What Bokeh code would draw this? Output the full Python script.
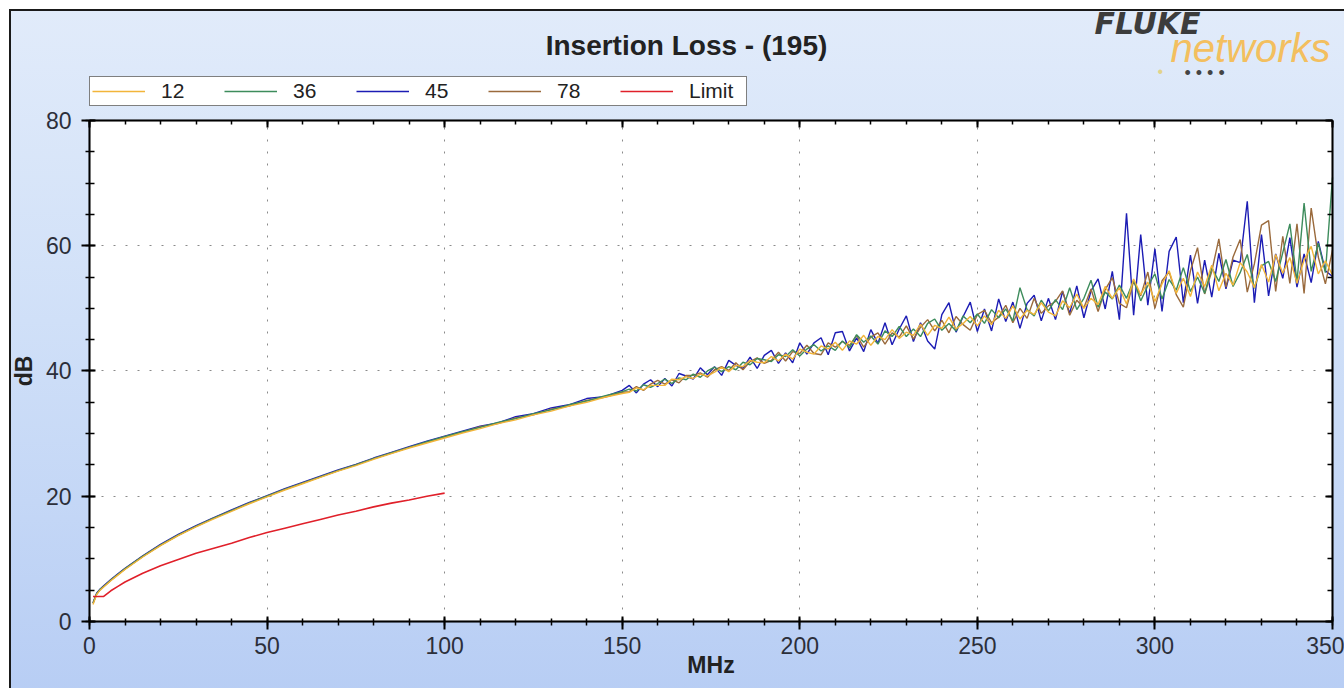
from bokeh.plotting import figure
from bokeh.models import (Range1d, SingleIntervalTicker, LinearAxis, Legend, LegendItem,
                          Label, InlineStyleSheet, CustomJSTickFormatter, BoxAnnotation)
from bokeh.embed import file_html
from bokeh.resources import INLINE

FONT = "Liberation Sans"

# ---------------- data ----------------
freq_low = [1, 2, 3, 4, 6, 8, 10, 15, 20, 25, 30, 35, 40, 45, 50, 55, 60, 65, 70, 75,
            80, 85, 90, 95, 100, 105, 110, 115, 120, 125, 130, 135, 140, 145, 150]
freq_high = [152, 154, 156, 158, 160, 162, 164, 166, 168, 170,
             172, 174, 176, 178, 180, 182, 184, 186, 188, 190,
             192, 194, 196, 198, 200, 202, 204, 206, 208, 210,
             212, 214, 216, 218, 220, 222, 224, 226, 228, 230,
             232, 234, 236, 238, 240, 242, 244, 246, 248, 250,
             252, 254, 256, 258, 260, 262, 264, 266, 268, 270,
             272, 274, 276, 278, 280, 282, 284, 286, 288, 290,
             292, 294, 296, 298, 300, 302, 304, 306, 308, 310,
             312, 314, 316, 318, 320, 322, 324, 326, 328, 330,
             332, 334, 336, 338, 340, 342, 344, 346, 348, 350]
freq_mhz = freq_low + freq_high

il_12_low = [2.7, 4.3, 5.0, 5.5, 6.5, 7.4, 8.3, 10.3, 12.1, 13.7, 15.1, 16.4, 17.6, 18.8, 19.9, 21.0, 22.0,
             23.0, 24.0, 24.9, 25.9, 26.8, 27.7, 28.5, 29.3, 30.1, 30.8,
             31.6, 32.2, 33.0, 33.6, 34.4, 35.0, 35.8, 36.4]
il_12_high = [36.6, 37.3, 37.0, 37.7, 37.7, 37.7, 38.7, 38.6, 39.1, 38.8,
              39.5, 39.2, 39.8, 40.6, 39.9, 40.9, 40.7, 41.7, 41.4, 41.3,
              42.3, 41.6, 42.7, 41.9, 43.5, 43.0, 42.7, 44.0, 43.5, 44.6,
              43.3, 44.8, 44.3, 45.7, 44.1, 45.5, 45.0, 46.6, 45.2, 46.2,
              45.7, 47.5, 45.7, 47.3, 46.8, 48.6, 46.7, 47.6, 48.7, 47.2,
              48.8, 47.4, 49.7, 48.4, 50.4, 48.3, 49.7, 49.0, 50.9, 49.4,
              48.8, 51.2, 50.1, 52.3, 50.0, 51.6, 50.6, 53.5, 51.6, 53.3,
              50.7, 54.7, 52.2, 54.2, 51.1, 53.9, 56.0, 52.4, 54.8, 51.9,
              55.8, 53.5, 56.9, 52.8, 55.6, 53.7, 57.3, 55.8, 53.3, 57.0,
              54.2, 58.6, 55.6, 58.1, 54.0, 57.7, 59.9, 55.5, 57.6, 55.3]

il_36_low = [2.9, 4.4, 5.1, 5.6, 6.6, 7.5, 8.4, 10.4, 12.2, 13.8, 15.2, 16.5, 17.7, 18.9, 20.0, 21.1, 22.1,
             23.1, 24.1, 25.0, 26.0, 26.9, 27.8, 28.7, 29.5, 30.3, 31.0,
             31.8, 32.4, 33.2, 33.8, 34.6, 35.2, 36.0, 36.7]
il_36_high = [37.1, 36.8, 37.8, 37.4, 38.0, 38.7, 38.0, 38.9, 38.6, 39.5,
              39.0, 40.0, 40.6, 39.9, 40.7, 40.2, 41.4, 41.0, 42.0, 41.8,
              41.5, 42.6, 42.3, 43.4, 42.4, 43.5, 44.2, 43.2, 44.0, 43.3,
              44.8, 43.7, 45.8, 44.6, 45.6, 44.3, 46.4, 45.5, 47.1, 45.5,
              46.7, 45.5, 47.6, 48.3, 46.5, 47.6, 46.4, 48.8, 47.7, 49.1,
              47.6, 49.8, 48.5, 49.9, 48.0, 53.3, 49.8, 48.8, 51.3, 49.6,
              51.4, 49.8, 53.3, 49.8, 51.6, 54.5, 50.2, 52.6, 51.5, 53.7,
              51.6, 54.5, 51.2, 53.6, 55.5, 51.5, 54.6, 52.9, 56.5, 52.7,
              55.0, 52.4, 56.5, 54.3, 57.8, 53.5, 55.7, 58.6, 53.2, 56.8,
              57.5, 54.3, 58.9, 63.5, 54.3, 66.8, 55.9, 60.4, 55.7, 70.9]

il_45_low = [3.0, 4.5, 5.2, 5.7, 6.7, 7.6, 8.5, 10.5, 12.3, 13.9, 15.3, 16.6, 17.8, 19.0, 20.1, 21.2, 22.2,
             23.2, 24.2, 25.1, 26.1, 27.0, 27.9, 28.8, 29.6, 30.4, 31.2,
             31.7, 32.7, 33.2, 34.1, 34.6, 35.6, 35.9, 36.9]
il_45_high = [37.7, 36.5, 37.9, 38.6, 37.5, 38.8, 37.6, 39.6, 39.2, 38.7,
              40.5, 39.4, 40.7, 39.3, 41.7, 40.9, 40.4, 42.2, 40.4, 42.5,
              43.3, 41.2, 42.9, 41.3, 44.5, 42.7, 44.5, 45.3, 42.6, 46.1,
              46.3, 43.2, 45.3, 43.1, 46.6, 44.4, 47.7, 44.2, 46.7, 48.8,
              44.7, 47.7, 44.8, 43.5, 49.0, 50.9, 46.2, 48.7, 51.0, 46.3,
              49.9, 46.4, 51.5, 47.9, 51.0, 46.8, 50.8, 52.1, 48.0, 51.6,
              48.2, 52.7, 49.2, 53.6, 48.5, 52.8, 54.7, 49.9, 55.9, 48.2,
              65.2, 48.9, 61.8, 50.5, 59.5, 49.5, 59.1, 61.4, 50.9, 58.5,
              50.8, 57.7, 51.8, 58.8, 53.1, 57.7, 57.3, 67.1, 50.9, 61.8,
              52.0, 58.7, 54.8, 61.3, 53.4, 58.7, 54.1, 60.7, 56.0, 55.1]

il_78_low = [2.9, 4.4, 5.1, 5.6, 6.6, 7.5, 8.4, 10.4, 12.2, 13.8, 15.2, 16.5, 17.7, 18.9, 20.0, 21.1, 22.1,
             23.1, 24.1, 25.0, 26.0, 26.9, 27.8, 28.6, 29.5, 30.2, 31.1,
             31.6, 32.5, 33.0, 33.9, 34.4, 35.3, 35.8, 36.6]
il_78_high = [36.7, 37.5, 36.9, 37.9, 38.5, 37.9, 38.6, 38.1, 39.3, 39.3,
              39.7, 39.0, 40.2, 40.7, 40.1, 41.3, 40.2, 41.5, 42.1, 41.2,
              41.7, 43.0, 41.6, 43.1, 42.8, 44.1, 42.8, 42.6, 44.5, 43.8,
              44.7, 44.1, 45.7, 43.8, 45.4, 46.1, 44.3, 46.1, 45.4, 47.2,
              45.1, 47.0, 48.2, 46.4, 48.1, 46.1, 48.7, 47.4, 46.5, 49.0,
              49.7, 47.7, 48.6, 50.5, 47.7, 50.0, 48.4, 51.6, 49.2, 50.4,
              51.1, 52.8, 48.9, 51.3, 50.1, 53.1, 49.5, 53.0, 54.9, 50.8,
              50.1, 54.3, 52.0, 55.8, 50.0, 54.4, 55.8, 52.2, 50.2, 56.0,
              59.7, 52.3, 55.9, 61.1, 53.4, 58.2, 61.0, 52.6, 57.1, 63.3,
              64.0, 52.7, 61.5, 54.0, 63.5, 52.4, 66.0, 58.2, 53.9, 59.3]

il_12 = il_12_low + il_12_high
il_36 = il_36_low + il_36_high
il_45 = il_45_low + il_45_high
il_78 = il_78_low + il_78_high

limit_freq = [1, 2, 3, 4, 6, 8, 10, 15, 20, 25, 30, 35, 40, 45, 50, 55, 60, 65, 70, 75,
              80, 85, 90, 95, 100]
limit_db = [4.0, 4.0, 4.0, 4.0, 4.9, 5.6, 6.3, 7.7, 8.9, 9.9, 10.9, 11.7, 12.5, 13.4, 14.2,
            14.9, 15.6, 16.3, 17.0, 17.6, 18.3, 18.9, 19.4, 20.0, 20.5]

pair_labels = ["12", "36", "45", "78", "Limit"]
pair_colors = ["#f2b53a", "#3d8c5c", "#1c1cb4", "#9a6a3c", "#e0202a"]

X_MIN, X_MAX = 0, 350
Y_MIN, Y_MAX = 0, 80

# ---------------- figure ----------------
# The frame fills the whole canvas; the plot box (0..350 MHz, 0..80 dB) sits inside it.
p = figure(width=1344, height=688,
           x_range=Range1d(-25.06, 353.38), y_range=Range1d(-10.70, 99.16),
           output_backend="svg", toolbar_location=None,
           min_border_left=0, min_border_right=0, min_border_top=0, min_border_bottom=0,
           background_fill_color=None, border_fill_color=None, outline_line_color=None)
p.title.visible = False

css = """
:host {
  background:
    linear-gradient(#1a1a1a, #1a1a1a) 9px 9px / 2px 100% no-repeat,
    linear-gradient(#1a1a1a, #1a1a1a) 9px 9px / 100% 2px no-repeat,
    linear-gradient(180deg, #e1ebfa 0%, #d0e0f8 45%, #b7cdf4 100%) 11px 11px / 100% 100% no-repeat,
    #ffffff;
}
"""
p.stylesheets = [InlineStyleSheet(css=css)]

# white plot box with black outline
p.add_layout(BoxAnnotation(left=X_MIN, right=X_MAX, bottom=Y_MIN, top=Y_MAX,
                           fill_color="white", fill_alpha=1.0,
                           line_color="black", line_width=1.5, level="image"))

xt = SingleIntervalTicker(interval=50, num_minor_ticks=5)
yt = SingleIntervalTicker(interval=20, num_minor_ticks=4)

xa = p.xaxis[0]
ya = p.yaxis[0]
xa.fixed_location = Y_MIN
ya.fixed_location = X_MIN
xa.bounds = (X_MIN, X_MAX)
ya.bounds = (Y_MIN, Y_MAX)

for ax, tk in ((xa, xt), (ya, yt)):
    ax.ticker = tk
    ax.axis_line_width = 2
    ax.major_tick_line_width = 2
    ax.minor_tick_line_width = 1.5
    ax.major_label_text_font = FONT
    ax.major_label_text_font_size = "23px"
    ax.major_label_text_color = "#2c2f3a"
    ax.axis_label_text_font = FONT
    ax.axis_label_text_font_style = "bold"
    ax.axis_label_text_font_size = "23px"
    ax.axis_label_text_color = "#222222"

xa.axis_label = "MHz"
xa.major_tick_in = 5
xa.major_tick_out = 8
xa.minor_tick_in = 3
xa.minor_tick_out = 4
xa.major_label_standoff = 8
xa.axis_label_standoff = -6

ya.axis_label = "dB"
ya.major_tick_in = 6
ya.major_tick_out = 8
ya.minor_tick_in = 5
ya.minor_tick_out = 4
ya.major_label_standoff = 10
ya.axis_label_standoff = 6

for g, tk, b, cb in ((p.xgrid[0], xt, (X_MIN, X_MAX), (Y_MIN, Y_MAX)),
                     (p.ygrid[0], yt, (Y_MIN, Y_MAX), (X_MIN, X_MAX))):
    g.ticker = tk
    g.bounds = b
    g.cross_bounds = cb
    g.grid_line_color = "#8a8a8a"
    g.grid_line_dash = "2 10"
    g.grid_line_width = 1

# inward ticks on the top and right edges of the plot box
blank = CustomJSTickFormatter(code="return ''")
top_ax = LinearAxis(ticker=SingleIntervalTicker(interval=50, num_minor_ticks=5), formatter=blank,
                    fixed_location=Y_MAX, bounds=(X_MIN, X_MAX),
                    major_tick_in=7, major_tick_out=0, minor_tick_in=4, minor_tick_out=0,
                    major_tick_line_width=2, minor_tick_line_width=1.5, axis_line_width=2,
                    major_label_standoff=0)
right_ax = LinearAxis(ticker=SingleIntervalTicker(interval=20, num_minor_ticks=4), formatter=blank,
                      fixed_location=X_MAX, bounds=(Y_MIN, Y_MAX),
                      major_tick_in=7, major_tick_out=0, minor_tick_in=5, minor_tick_out=0,
                      major_tick_line_width=2, minor_tick_line_width=1.5, axis_line_width=2,
                      major_label_standoff=0)
p.add_layout(top_ax, "above")
p.add_layout(right_ax, "right")

# ---------------- lines ----------------
r45 = p.line(freq_mhz, il_45, line_color=pair_colors[2], line_width=1.4)
r78 = p.line(freq_mhz, il_78, line_color=pair_colors[3], line_width=1.4)
r36 = p.line(freq_mhz, il_36, line_color=pair_colors[1], line_width=1.4)
r12 = p.line(freq_mhz, il_12, line_color=pair_colors[0], line_width=1.4)
rlim = p.line(limit_freq, limit_db, line_color=pair_colors[4], line_width=1.6)

renderers = [r12, r36, r45, r78, rlim]
legend = Legend(items=[LegendItem(label=l, renderers=[r]) for l, r in zip(pair_labels, renderers)],
                orientation="horizontal", location=(89, 582),
                glyph_width=53, glyph_height=20, label_standoff=16, label_width=55, label_height=20,
                spacing=8, padding=2, margin=0,
                border_line_color="black", border_line_width=1.5,
                background_fill_color="white", background_fill_alpha=1.0,
                label_text_font=FONT, label_text_font_size="21px", label_text_color="#222222")
p.add_layout(legend)

# ---------------- texts ----------------
p.add_layout(Label(x=686, y=45, x_units="canvas", y_units="canvas",
                   text="Insertion Loss - (195)", text_align="center", text_baseline="middle",
                   text_font=FONT, text_font_style="bold", text_font_size="28px",
                   text_color="#222222"))
p.add_layout(Label(x=1094, y=23, x_units="canvas", y_units="canvas", text="FLUKE",
                   text_baseline="middle", text_font="DejaVu Sans",
                   text_font_style="bold italic", text_font_size="30px", text_color="#3c3c3c"))
p.add_layout(Label(x=1170, y=47, x_units="canvas", y_units="canvas", text="networks",
                   text_baseline="middle", text_font=FONT,
                   text_font_style="italic", text_font_size="40px", text_color="#f3bf5f"))
p.add_layout(Label(x=1184, y=72, x_units="canvas", y_units="canvas", text="\u2022  \u2022  \u2022  \u2022",
                   text_baseline="middle", text_font=FONT, text_font_size="18px",
                   text_color="#444444"))
p.add_layout(Label(x=1157, y=71, x_units="canvas", y_units="canvas", text="\u2022",
                   text_baseline="middle", text_font=FONT, text_font_size="16px",
                   text_color="#e2d48a"))

open("out.html", "w").write(file_html(p, INLINE))
